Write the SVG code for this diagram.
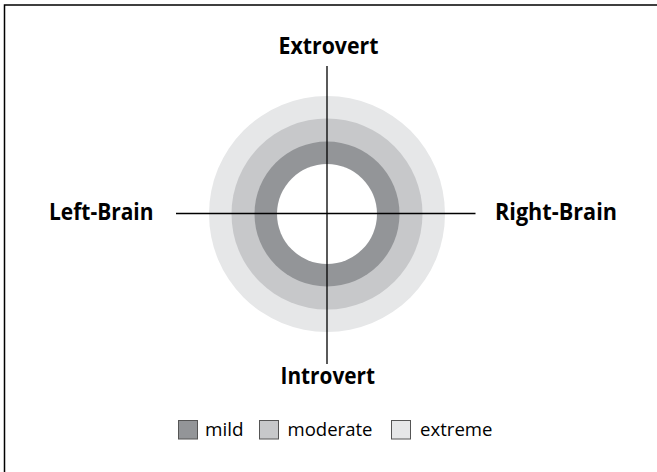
<svg xmlns="http://www.w3.org/2000/svg" width="657" height="472" viewBox="0 0 657 472">
<style>
.lbl{font-family:"Open Sans","Liberation Sans",sans-serif;font-weight:bold;font-size:23.5px;fill:#000}
.leg{font-family:"Open Sans","Liberation Sans",sans-serif;font-size:18.5px;fill:#000}
.ax{stroke:#000;stroke-width:1.3;fill:none}
.box{stroke:#555;stroke-width:1}
</style>
<rect width="657" height="472" fill="#fff"/>
<g id="frame"><path d="M4.5,472 V5 H657" fill="none" stroke="#000" stroke-width="1.5"/></g>
<g id="rings">
<circle id="extreme" cx="327" cy="214" r="118" fill="#e6e7e8"/>
<circle id="moderate" cx="327" cy="214" r="95.5" fill="#c7c8ca"/>
<circle id="mild" cx="327" cy="214" r="72.5" fill="#939598"/>
<circle id="core" cx="327" cy="214" r="50" fill="#fff"/>
</g>
<g id="connectors">
<line class="ax" x1="327" y1="66" x2="327" y2="364"/>
<line class="ax" x1="176" y1="213.5" x2="475.5" y2="213.5"/>
</g>
<g id="extrovert"><text class="lbl" x="278.5" y="54" textLength="100" lengthAdjust="spacingAndGlyphs">Extrovert</text></g>
<g id="introvert"><text class="lbl" x="280.5" y="383.5" textLength="94.5" lengthAdjust="spacingAndGlyphs">Introvert</text></g>
<g id="left-brain"><text class="lbl" x="49" y="220" textLength="104.5" lengthAdjust="spacingAndGlyphs">Left-Brain</text></g>
<g id="right-brain"><text class="lbl" x="495" y="220" textLength="122" lengthAdjust="spacingAndGlyphs">Right-Brain</text></g>
<g id="legend">
<rect class="box" x="178.5" y="420.5" width="19" height="18.5" fill="#939598"/>
<text class="leg" x="205" y="435.5" textLength="38.5" lengthAdjust="spacingAndGlyphs">mild</text>
<rect class="box" x="259.5" y="420.5" width="19" height="18.5" fill="#c7c8ca"/>
<text class="leg" x="287.5" y="435.5" textLength="85" lengthAdjust="spacingAndGlyphs">moderate</text>
<rect class="box" x="391.5" y="420.5" width="19" height="18.5" fill="#e6e7e8"/>
<text class="leg" x="420" y="435.5" textLength="72.5" lengthAdjust="spacingAndGlyphs">extreme</text>
</g>
</svg>
